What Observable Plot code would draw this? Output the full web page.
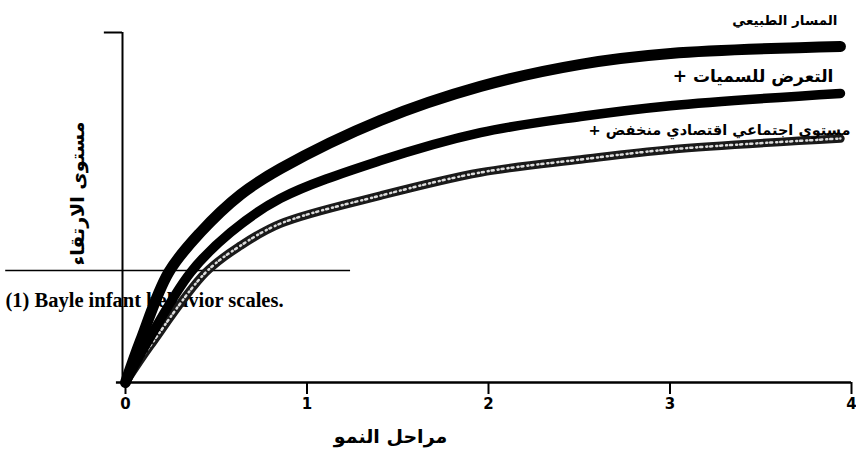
<!DOCTYPE html>
<html>
<head>
<meta charset="utf-8">
<script src="https://cdn.jsdelivr.net/npm/d3@7"></script>
<script src="https://cdn.jsdelivr.net/npm/@observablehq/plot@0.6"></script>
<style>
  html, body { margin: 0; padding: 0; background: #fff; }
  #chart { width: 856px; height: 472px; }
</style>
</head>
<body>
<div id="chart"></div>
<script>
// Growth stages (x) and level of development (y, 0–100) for each path
const naturalStages = [0, 0.083, 0.237, 0.413, 0.634, 0.854, 1.405, 1.956, 2.507, 3.003, 3.939];
const naturalLevels = [0, 12.0, 31.4, 42.9, 53.7, 61.1, 74.9, 84.6, 90.9, 94.0, 96.0];

const toxinStages = [0, 0.110, 0.358, 0.579, 0.854, 1.405, 1.956, 2.507, 3.003, 3.939];
const toxinLevels = [0, 10.6, 31.4, 42.9, 52.6, 63.4, 71.4, 76.0, 79.1, 82.6];

const sesStages = [0, 0.138, 0.441, 0.634, 0.854, 1.405, 1.956, 2.507, 3.003, 3.939];
const sesLevels = [0, 10.6, 31.4, 39.1, 45.4, 53.4, 60.0, 63.7, 66.6, 69.7];

const LRM = "\u200E", RLM = "\u200F";
const seriesNames = ["المسار الطبيعي", "التعرض للسميات", "مستوى اجتماعي اقتصادي منخفض"];
const plusSign = " +";
const xTicks = [0, 1, 2, 3, 4];
const xTitle = "مراحل النمو";
const yTitle = "مستوى الارتقاء";
const caption = "(1) Bayle infant behavior scales.";
// stray horizontal rule from the scanned page: level, start stage, end stage
const scanRuleLevel = [32];
const scanRuleFrom = -0.66;
const scanRuleTo = 1.24;

const toRows = (xs, ys) => xs.map((x, i) => ({x, y: ys[i]}));
const natural = toRows(naturalStages, naturalLevels);
const toxin = toRows(toxinStages, toxinLevels);
const ses = toRows(sesStages, sesLevels);
const last = a => [a[a.length - 1]];
const ltr = s => LRM + s + LRM;
const rtl = s => RLM + s + RLM;

const arabic = "'DejaVu Sans', sans-serif";
const curve = "catmull-rom";

const chart = Plot.plot({
  width: 856,
  height: 472,
  marginLeft: 125,
  marginRight: 5,
  marginTop: 32,
  marginBottom: 90,
  x: {domain: [0, 4]},
  y: {domain: [0, 100], axis: null},
  style: {background: "#fff", fontFamily: arabic, overflow: "visible"},
  marks: [
    Plot.text([caption], {frameAnchor: "left", dx: -120, dy: 93, textAnchor: "start",
      fontFamily: "'Liberation Serif', serif", fontWeight: "bold", fontSize: 20.5, fill: "#000"}),
    Plot.ruleY(scanRuleLevel, {x1: scanRuleFrom, x2: scanRuleTo, stroke: "#000", strokeWidth: 1.5}),
    Plot.ruleX([0], {y1: 0, y2: 100, dx: -3, stroke: "#000", strokeWidth: 2}),
    Plot.ruleY([100], {x1: -0.1, x2: 0, dx: -3, stroke: "#000", strokeWidth: 2}),
    Plot.ruleY([0], {x1: -0.05, x2: 4, stroke: "#000", strokeWidth: 2.5}),
    Plot.axisX({ticks: xTicks, tickSize: 12, tickPadding: 4, tickFormat: d => String(d),
      strokeWidth: 2, fontSize: 15, fontWeight: "bold", fontFamily: arabic, label: null}),
    Plot.text([ltr(yTitle)], {frameAnchor: "left", dx: -48, dy: -14, rotate: -90, textAnchor: "middle",
      fontSize: 19, fontWeight: "bold", fill: "#000"}),
    Plot.text([ltr(xTitle)], {frameAnchor: "bottom-left", dx: 265, dy: 60, textAnchor: "middle",
      fontSize: 19, fontWeight: "bold", fill: "#000"}),
    Plot.line(ses, {x: "x", y: "y", curve, stroke: "#1a1a1a", strokeWidth: 8.5, strokeLinecap: "round"}),
    Plot.line(ses, {x: "x", y: "y", curve, stroke: "#fff", strokeWidth: 2.5, strokeDasharray: "1,3,2,4", strokeOpacity: 0.85}),
    Plot.line(toxin, {x: "x", y: "y", curve, stroke: "#000", strokeWidth: 9.5, strokeLinecap: "round"}),
    Plot.line(natural, {x: "x", y: "y", curve, stroke: "#000", strokeWidth: 11, strokeLinecap: "round"}),
    Plot.text(last(natural), {x: "x", y: "y", text: () => rtl(seriesNames[0]), textAnchor: "end", dx: -3, dy: -26,
      fontSize: 13.5, fontWeight: "bold", fill: "#000"}),
    Plot.text(last(toxin), {x: "x", y: "y", text: () => rtl(seriesNames[1] + plusSign), textAnchor: "end", dx: -7, dy: -17,
      fontSize: 17, fontWeight: "bold", fill: "#000"}),
    Plot.text(last(ses), {x: "x", y: "y", text: () => rtl(seriesNames[2] + plusSign), textAnchor: "end", dx: 10, dy: -8,
      fontSize: 14.5, fontWeight: "bold", fill: "#000"})
  ]
});
document.getElementById("chart").appendChild(chart);
</script>
</body>
</html>
